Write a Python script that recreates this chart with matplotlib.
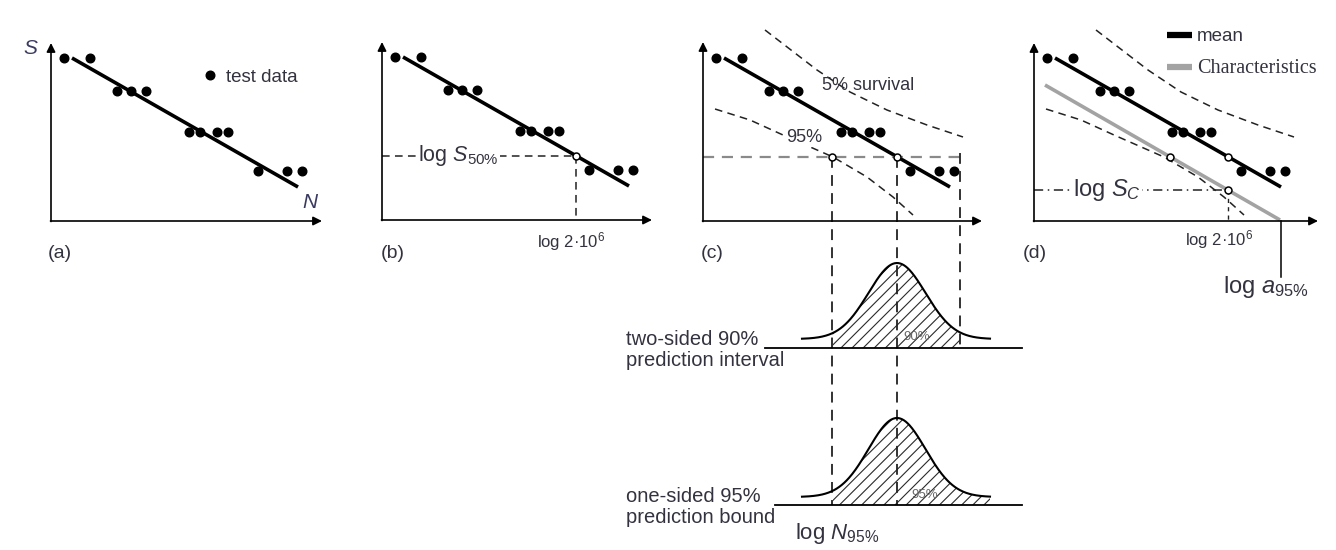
import numpy as np
import matplotlib
matplotlib.use('Agg')
import matplotlib.pyplot as plt

plt.rcParams['font.family'] = ['Liberation Sans', 'DejaVu Sans']
plt.rcParams['mathtext.fontset'] = 'custom'
plt.rcParams['mathtext.rm'] = 'Liberation Sans'
plt.rcParams['mathtext.it'] = 'Liberation Sans:italic'
plt.rcParams['hatch.linewidth'] = 0.8

# test data, log N vs log S (arbitrary units)
log_N = [0.13, 0.39, 0.66, 0.80, 0.95, 1.38, 1.49, 1.66, 1.77, 2.07, 2.36, 2.51]
log_S = [1.63, 1.63, 1.30, 1.30, 1.30, 0.89, 0.89, 0.89, 0.89, 0.50, 0.50, 0.50]

# mean S-N line and characteristic (95%) line, end points
mean_N = [0.21, 2.47]
mean_S = [1.63, 0.34]
char_N = [0.11, 2.46]
char_S = [1.36, 0.01]

# prediction band curves (5% survival above, 95% survival below)
upper_N = [0.62, 1.14, 1.47, 1.84, 2.24, 2.60]
upper_S = [1.91, 1.51, 1.29, 1.11, 0.96, 0.84]
lower_N = [0.12, 0.47, 0.80, 1.30, 1.64, 1.90, 2.10]
lower_S = [1.12, 1.01, 0.86, 0.64, 0.44, 0.24, 0.06]

N_2e6 = 1.94      # log 2*10^6
N_upper = 2.57    # upper end of the 90% interval
N_a95 = 2.47      # log a95%

# distribution of log N at the log S50% level
dist_center = 1.94
dist_spread = 0.285
two_sided = dict(base=-1.27, tail=-1.18, peak=0.76, line=(0.62, 3.19))
one_sided = dict(base=-2.84, tail=-2.76, peak=0.79, line=(0.72, 3.19))
dist_span = (0.99, 2.87)

S50 = np.interp(N_2e6, mean_N, mean_S)
S_C = np.interp(N_2e6, char_N, char_S)
N_95 = np.interp(S50, lower_S[::-1], lower_N[::-1])
N_char50 = np.interp(S50, char_S[::-1], char_N[::-1])

W, H = 1336, 550
PX = 100  # pixels per unit
TXT = '#33333f'
fig = plt.figure(figsize=(W / 100, H / 100), dpi=100)


def panel(x0, y0, xlim, ylim):
    ax = fig.add_axes([(x0 + xlim[0] * PX) / W, (H - y0 + ylim[0] * PX) / H,
                       (xlim[1] - xlim[0]) * PX / W, (ylim[1] - ylim[0]) * PX / H])
    ax.set_xlim(xlim)
    ax.set_ylim(ylim)
    ax.axis('off')
    return ax


def frame(ax, x_end, y_end=1.78):
    arrow = dict(arrowstyle='-|>', color='k', lw=1.2, mutation_scale=13, shrinkA=0, shrinkB=0)
    ax.annotate('', xy=(x_end, 0), xytext=(-0.005, 0), arrowprops=arrow)
    ax.annotate('', xy=(0, y_end), xytext=(0, -0.005), arrowprops=arrow)


def data_and_mean(ax, label=None):
    pts, = ax.plot(log_N, log_S, 'o', ms=6.2, color='k', label=label)
    ax.plot(mean_N, mean_S, color='k', lw=2.6, solid_capstyle='butt', label='mean')
    return pts


def open_pt(ax, x, y):
    ax.plot([x], [y], 'o', ms=5, mfc='white', mec='k', mew=1.1, zorder=5)


dash = dict(color='#222222', lw=1.1, ls=(0, (5, 3.5)))
gdash = dict(color='#8a8a8a', lw=1.6, ls=(0, (5, 3.5)))
vdash = dict(color='#222222', lw=1.3, ls=(0, (6, 4)))
box = dict(facecolor='white', edgecolor='none', pad=1)

# (a) test data and fitted line
ax = panel(51, 221, (-0.5, 2.9), (-0.5, 2.0))
frame(ax, 2.71)
pts = data_and_mean(ax, 'test data')
ax.legend(handles=[pts], loc='center left', bbox_to_anchor=(1.53, 1.44), bbox_transform=ax.transData,
          frameon=False, handlelength=0.6, handletextpad=0.55, fontsize=13.5, labelcolor=TXT,
          borderpad=0, borderaxespad=0)
ax.text(-0.21, 1.73, 'S', fontsize=15, style='italic', color='#3a3a60', ha='center', va='center')
ax.text(2.59, 0.18, 'N', fontsize=15, style='italic', color='#3a3a60', ha='center', va='center')
ax.text(0.09, -0.32, '(a)', fontsize=14, color=TXT, ha='center', va='center')

# (b) median at 2 million cycles
ax = panel(382, 220, (-0.3, 2.9), (-0.5, 2.0))
frame(ax, 2.70)
data_and_mean(ax)
ax.plot([0, N_2e6], [S50, S50], **dash)
ax.plot([N_2e6, N_2e6], [S50, 0], **dash)
open_pt(ax, N_2e6, S50)
ax.text(0.36, S50, r'log $S_{\mathrm{50\%}}$', fontsize=15.5, color=TXT, va='center', bbox=box)
ax.text(1.89, -0.22, r'log 2·10$^{6}$', fontsize=12, color=TXT, ha='center', va='center')
ax.text(0.11, -0.33, '(b)', fontsize=14, color=TXT, ha='center', va='center')

# (c) prediction band and distributions of log N
ax = panel(703, 221, (-0.9, 3.2), (-3.3, 2.0))
frame(ax, 2.79, 1.79)
data_and_mean(ax)
ax.plot(upper_N, upper_S, **dash)
ax.plot(lower_N, lower_S, **dash)
ax.plot([0, N_upper], [S50, S50], **gdash)
ax.plot([N_95, N_95], [S50, one_sided['base']], **vdash)
ax.plot([N_2e6, N_2e6], [S50, one_sided['base']], **vdash)
ax.plot([N_upper, N_upper], [S50 + 0.04, two_sided['base']], **vdash)
open_pt(ax, N_95, S50)
open_pt(ax, N_2e6, S50)
ax.text(1.19, 1.36, '5% survival', fontsize=13, color=TXT, va='center')
ax.text(0.83, 0.84, '95%', fontsize=13, color=TXT, va='center', bbox=box)
ax.text(0.09, -0.32, '(c)', fontsize=14, color=TXT, ha='center', va='center')

xs = np.linspace(dist_span[0], dist_span[1], 300)
for d, hatch_to in ((two_sided, N_upper), (one_sided, dist_span[1])):
    curve = d['tail'] + d['peak'] * np.exp(-0.5 * ((xs - dist_center) / dist_spread) ** 2)
    ax.plot(xs, curve, color='k', lw=1.5)
    ax.plot(d['line'], [d['base'], d['base']], color='k', lw=1.3)
    m = (xs >= N_95) & (xs <= hatch_to)
    ax.fill_between(xs[m], d['base'], curve[m], facecolor='none', edgecolor='#2a2a2a',
                    hatch='///', lw=0)

ax.text(2.14, -1.16, '90%', fontsize=9.5, color='#666666', ha='center', va='center')
ax.text(2.22, -2.74, '95%', fontsize=9.5, color='#666666', ha='center', va='center')
ax.text(-0.77, -1.29, 'two-sided 90%\nprediction interval', fontsize=14.5, color=TXT,
        va='center', linespacing=1.1)
ax.text(-0.77, -2.86, 'one-sided 95%\nprediction bound', fontsize=14.5, color=TXT,
        va='center', linespacing=1.1)
ax.text(0.92, -3.12, r'log $N_{\mathrm{95\%}}$', fontsize=16, color=TXT, va='center')

# (d) characteristic curve
ax = panel(1034, 221, (-0.3, 3.0), (-0.8, 2.0))
frame(ax, 2.84)
pts = data_and_mean(ax)
ax.plot(upper_N, upper_S, **dash)
ax.plot(lower_N, lower_S, **dash)
char_line, = ax.plot(char_N, char_S, color='#a3a3a3', lw=2.6, solid_capstyle='butt',
                     label='Characteristics')
ax.plot([0, N_2e6], [S_C, S_C], color='#222222', lw=1.1, ls=(0, (6, 3, 1, 3)))
ax.plot([N_2e6, N_2e6], [S_C, 0], color='#222222', lw=1.0, ls=(0, (3, 3)))
ax.plot([N_a95, N_a95], [0, -0.56], color='k', lw=1.1)
open_pt(ax, N_2e6, S50)
open_pt(ax, N_char50, S50)
open_pt(ax, N_2e6, S_C)
ax.text(0.39, S_C, r'log $S_C$', fontsize=17, color=TXT, va='center', bbox=box)
ax.text(1.85, -0.19, r'log 2·10$^{6}$', fontsize=12, color=TXT, ha='center', va='center')
ax.text(1.89, -0.66, r'log $a_{\mathrm{95\%}}$', fontsize=17, color=TXT, va='center')
ax.text(0.01, -0.32, '(d)', fontsize=14, color=TXT, ha='center', va='center')
leg = ax.legend(handles=[ax.lines[1], char_line], loc='upper left', bbox_to_anchor=(1.33, 1.93),
                bbox_transform=ax.transData, frameon=False, handlelength=1.35, handletextpad=0.25,
                fontsize=13.5, labelspacing=0.75, borderpad=0, borderaxespad=0, labelcolor=TXT)
for h in leg.legend_handles:
    h.set_linewidth(4.5)
char_text = leg.get_texts()[1]
char_text.set_family('Liberation Serif')
char_text.set_fontsize(14.5)

fig.savefig('out.png', dpi=100)
